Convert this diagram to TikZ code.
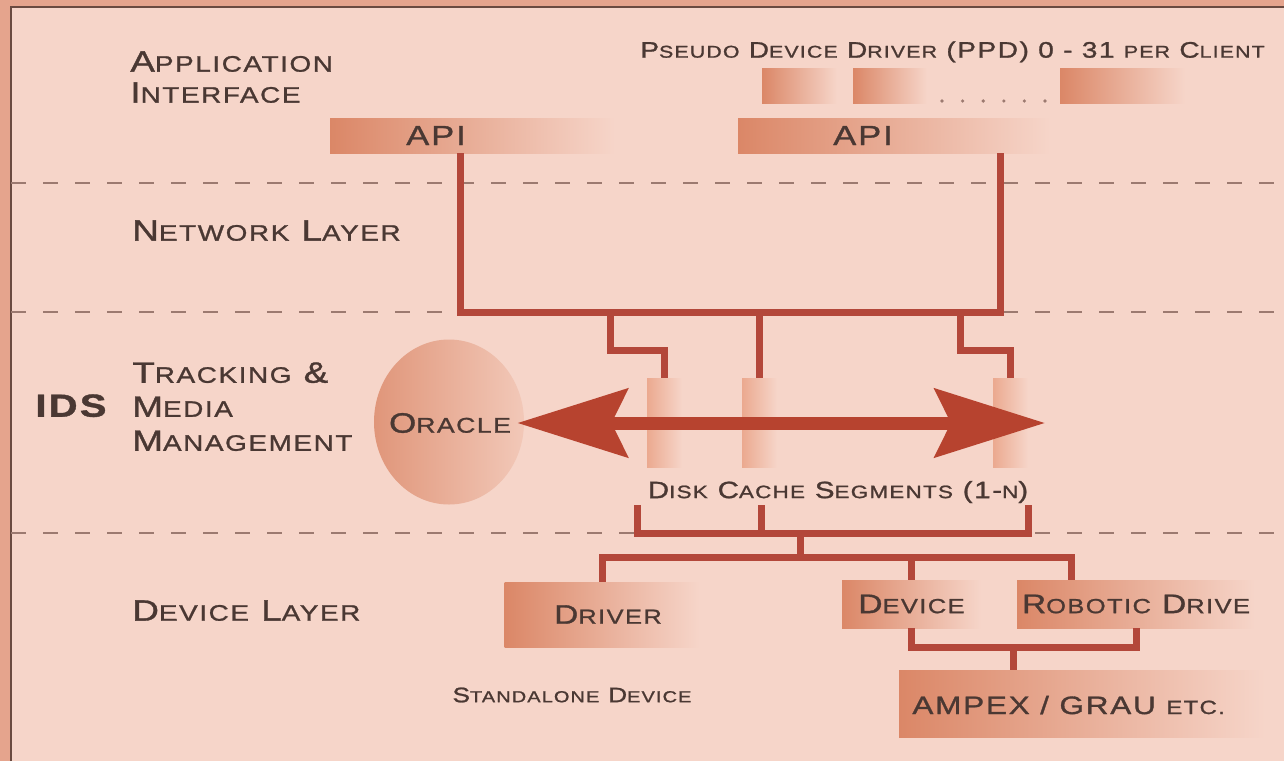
\documentclass[tikz,border=0pt]{standalone}
\usepackage{fontspec}
\setmainfont{Liberation Sans}[FakeStretch=1.25,LetterSpace=7,FakeBold=1.2]
\usetikzlibrary{shapes.geometric,arrows.meta}

\definecolor{pagecol}{HTML}{F6D5C9}
\definecolor{bandcol}{HTML}{E5A48D}
\definecolor{framecol}{HTML}{6A4A40}
\definecolor{inkcol}{HTML}{4A3833}
\definecolor{dashcol}{HTML}{9C7A70}
\definecolor{wirecol}{HTML}{B3473A}
\definecolor{arrowcol}{HTML}{B7432F}
\definecolor{barcol}{HTML}{DB8767}
\definecolor{segcol}{HTML}{EBA98F}
\definecolor{oraL}{HTML}{E0967A}
\definecolor{oraR}{HTML}{F2C8B8}

% small capitals made by hand
\makeatletter
\newcommand\sml[1]{{\fontsize{\strip@pt\dimexpr0.76\dimexpr\f@size pt\relax\relax}{0}\selectfont #1}}
\makeatother

\begin{document}
\begin{tikzpicture}[x=0.5pt, y=-0.5pt,
    lvl/.style={font=\fontsize{14.7}{15.5}\selectfont, text=inkcol, anchor=north west, align=left, inner sep=0pt},
    hdr/.style={font=\fontsize{11.2}{12}\selectfont, text=inkcol, inner sep=0pt},
    boxtxt/.style={font=\fontsize{13.4}{14}\selectfont, text=inkcol},
    bar/.style={rectangle, inner sep=0pt, left color=barcol, right color=pagecol},
    seg/.style={rectangle, inner sep=0pt, minimum width=17.5pt, minimum height=44.5pt, left color=segcol, right color=pagecol},
    wire/.style={draw=wirecol, line width=3.5pt},
    layer/.style={draw=dashcol, line width=1pt, dash pattern=on 7.5pt off 8.5pt}]
    \useasboundingbox (0,0) rectangle (1284,761);
    \fill[bandcol] (0,0) rectangle (1284,761);
    \fill[pagecol] (11,7) rectangle (1284,761);
    \draw[framecol, line width=1pt] (11,761) -- (11,7) -- (1284,7);
    % layer separators
    \foreach \y in {183,312,533}
        \draw[layer] (11,\y) -- (1284,\y);

    % layer names
    \node[lvl] (appLbl) at (130,51) {A\sml{PPLICATION}\\I\sml{NTERFACE}};
    \node[lvl] (netLbl) at (132,220) {N\sml{ETWORK} L\sml{AYER}};
    \node[lvl, font=\fontsize{14.7}{17}\selectfont] (trkLbl) at (132,362) {T\sml{RACKING} \&\\M\sml{EDIA}\\M\sml{ANAGEMENT}};
    \node[lvl, font=\fontsize{16}{20}\selectfont\bfseries] (idsLbl) at (35,394) {IDS};
    \node[lvl] (devLbl) at (132,600) {D\sml{EVICE} L\sml{AYER}};

    % application interface
    \node[hdr, anchor=north west] (ppdLbl) at (640,41) {P\sml{SEUDO} D\sml{EVICE} D\sml{RIVER} (PPD) 0 - 31 \sml{PER} C\sml{LIENT}};
    \node[bar, minimum width=37.5pt, minimum height=17.5pt] (ppdA) at (799.5,85.5) {};
    \node[bar, minimum width=37pt, minimum height=17.5pt] (ppdB) at (890,85.5) {};
    \node[bar, minimum width=62.5pt, minimum height=17.5pt] (ppdC) at (1122.5,85.5) {};
    \foreach \i in {0,...,5}
        \fill[dashcol] (942+20.6*\i,101) circle (0.9pt);
    \node[bar, minimum width=142.5pt, minimum height=17.5pt] (apiL) at (472.5,135.5) {};
    \node[boxtxt, font=\fontsize{13.8}{16}\selectfont] (apiLtxt) at (436,135.5) {API};
    \node[bar, minimum width=156pt, minimum height=17.5pt] (apiR) at (894,135.5) {};
    \node[boxtxt, font=\fontsize{13.8}{16}\selectfont] (apiRtxt) at (863,135.5) {API};

    % tracking and media management
    \node[ellipse, minimum width=75pt, minimum height=82.5pt, inner sep=0pt, left color=oraL, right color=oraR] (oracle) at (449,422) {};
    \node[boxtxt, font=\fontsize{14}{16}\selectfont] (oraTxt) at (450,423) {O\sml{RACLE}};
    \node[seg] (seg1) at (664.5,422.5) {};
    \node[seg] (seg2) at (759.5,422.5) {};
    \node[seg] (seg3) at (1010.5,422.5) {};
    \coordinate (arrR) at (1045,423);
    \draw[draw=arrowcol, line width=6.5pt, {Stealth[length=55pt,width=34pt,inset=8pt]}-{Stealth[length=55pt,width=34pt,inset=8pt]}] ([xshift=-3.5pt,yshift=-0.5pt]oracle.east) -- (arrR);
    \node[hdr, font=\fontsize{11.8}{13}\selectfont] (diskLbl) at (838,492) {D\sml{ISK} C\sml{ACHE} S\sml{EGMENTS} (1-\sml{N})};

    % device layer
    \node[bar, boxtxt, minimum width=97.5pt, minimum height=32.5pt] (driver) at (602,614.5) {\hspace{6pt}D\sml{RIVER}};
    \node[bar, boxtxt, minimum width=69.5pt, minimum height=24pt] (device) at (911.5,604) {D\sml{EVICE}};
    \node[bar, boxtxt, minimum width=119pt, minimum height=24pt] (robot) at (1136,604) {R\sml{OBOTIC} D\sml{RIVE}};
    \node[bar, minimum width=183pt, minimum height=33.5pt] (ampex) at (1082,703.5) {};
    \node[boxtxt, font=\fontsize{12.6}{17}\selectfont, anchor=west, inner sep=0pt] (ampTxt) at (912,705) {AMPEX / GRAU \sml{ETC.}};
    \node[boxtxt, font=\fontsize{10.5}{13}\selectfont] (standLbl) at (572,695) {S\sml{TANDALONE} D\sml{EVICE}};

    % network wiring
    \coordinate (netL) at (460,312);
    \coordinate (netR) at (1000,312);
    \coordinate (tapA) at (610,312);
    \coordinate (tapB) at (960,312);
    \draw[wire] (apiL.south -| netL) -- (netL) -- (netR) -- (apiR.south -| netR);
    \draw[wire] (tapA) -- ++(0,38) -| (seg1.north);
    \draw[wire] (seg2.north |- netL) -- (seg2.north);
    \draw[wire] (tapB) -- ++(0,38) -| (seg3.north);

    % cache to devices
    \coordinate (dskTop) at (0,505);
    \coordinate (dskL) at (637,533);
    \coordinate (dskM) at (761,533);
    \coordinate (dskR) at (1028,533);
    \coordinate (devHub) at (800,557);
    \coordinate (robTap) at (1071,580);
    \coordinate (ampHub) at (1013,647);
    \draw[wire] (dskL |- dskTop) -- (dskL) -- (dskR) -- (dskR |- dskTop);
    \draw[wire] (dskM |- dskTop) -- (dskM);
    \draw[wire] (devHub |- dskL) -- (devHub);
    \draw[wire] (driver.north) |- (robTap |- devHub) -- (robTap);
    \draw[wire] (device.north |- devHub) -- (device.north);
    \draw[wire] (device.south) |- (ampHub) -| (robot.south);
    \draw[wire] (ampHub) -- (ampHub |- ampex.north);
\end{tikzpicture}
\end{document}
